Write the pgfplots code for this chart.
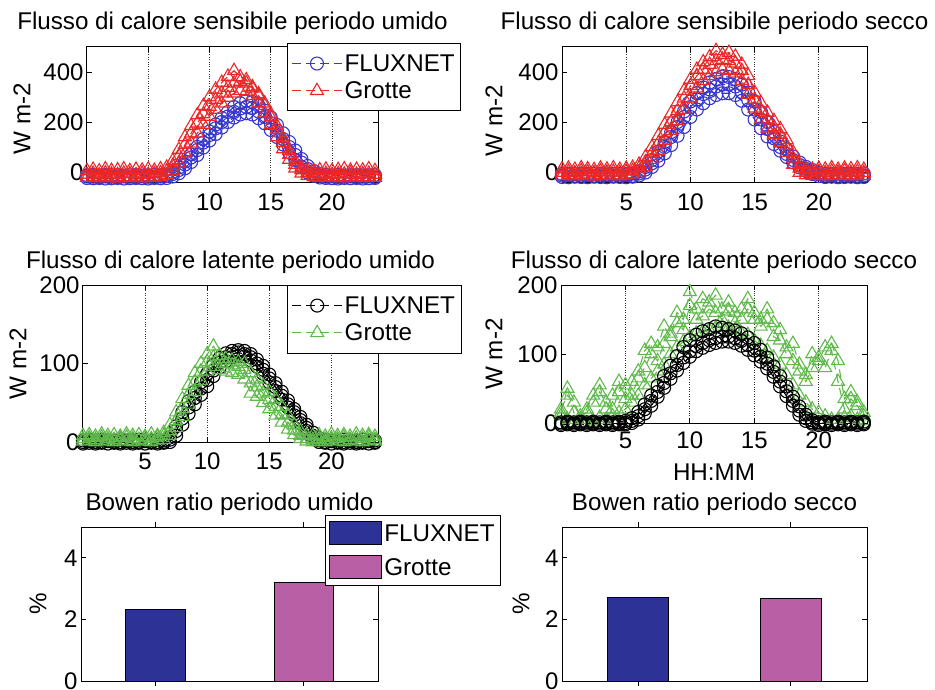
\documentclass[border=0pt]{standalone}
\usepackage{fontspec}
\setmainfont{Liberation Sans}
\usepackage{pgfplots}
\usepackage{pgfplotstable}
\pgfplotsset{compat=1.18}

\definecolor{fblue}{RGB}{55,55,205}
\definecolor{gred}{RGB}{235,40,40}
\definecolor{ggreen}{RGB}{95,185,75}
\definecolor{barblue}{RGB}{45,50,150}
\definecolor{barpink}{RGB}{185,95,165}

\newcommand{\tfont}{\fontsize{24.2}{28}\selectfont}
\newcommand{\kfont}{\fontsize{24}{28}\selectfont}

% Flusso di calore sensibile, periodo umido
\pgfplotstableread{
x     F1   F2   F3   G1   G2   G3
0     -24  -18  -13  -22  -10  5
0.5   -25  -19  -12  -20  -6   10
1     -24  -20  -14  -24  -12  4
1.5   -26  -18  -12  -18  -4   12
2     -25  -19  -13  -22  -9   6
2.5   -24  -20  -12  -25  -11  8
3     -26  -18  -14  -20  -5   12
3.5   -25  -19  -13  -23  -8   5
4     -24  -20  -12  -19  -12  10
4.5   -25  -18  -14  -24  -6   7
5     -26  -19  -13  -21  -10  11
5.5   -24  -20  -12  -22  -7   6
6     -25  -18  -13  -18  -4   12
6.5   -24  -16  -10  -12  2    18
7     -18  -8   0    5    25   45
7.5   -5   8    18   35   65   90
8     15   30   42   75   110  140
8.5   40   58   70   115  155  185
9     68   88   100  155  195  228
9.5   98   118  132  190  232  265
10    126  148  162  222  262  300
10.5  152  175  190  250  290  330
11    178  200  216  275  315  358
11.5  200  222  240  298  338  382
12    218  240  260  315  355  405
12.5  230  254  275  325  362  380
13    235  260  285  322  355  368
13.5  230  256  280  305  335  340
14    215  242  265  275  305  312
14.5  195  220  245  235  265  275
15    168  195  218  190  220  232
15.5  140  165  188  140  170  185
16    110  132  155  92   118  135
16.5  78   100  120  50   70   85
17    48   68   86   15   30   42
17.5  20   38   52   -5   8    18
18    -2   12   24   -15  -3   10
18.5  -15  -6   4    -20  -8   6
19    -22  -15  -8   -22  -10  8
19.5  -24  -19  -12  -19  -6   11
20    -25  -18  -13  -23  -11  5
20.5  -26  -20  -12  -20  -7   9
21    -24  -19  -14  -24  -9   12
21.5  -25  -18  -13  -21  -5   6
22    -24  -20  -12  -18  -10  10
22.5  -26  -19  -14  -23  -8   7
23    -25  -18  -13  -20  -6   12
23.5  -24  -20  -12  -22  -10  5
}\tabSU

% Flusso di calore sensibile, periodo secco
\pgfplotstableread{
x     F1   F2   F3   G1   G2   G3
0     -20  -14  -8   -15  -2   12
0.5   -21  -13  -7   -12  2    15
1     -19  -15  -8   -16  -4   10
1.5   -20  -14  -6   -10  4    16
2     -21  -13  -8   -14  0    12
2.5   -19  -15  -7   -17  -3   9
3     -20  -14  -8   -11  3    15
3.5   -21  -13  -6   -15  -1   11
4     -19  -15  -8   -13  2    16
4.5   -20  -14  -7   -16  -2   10
5     -21  -13  -8   -12  3    14
5.5   -19  -15  -6   -8   5    18
6     -14  -6   2    0    15   30
6.5   -2   10   20   20   40   60
7     20   35   48   50   75   100
7.5   45   65   82   85   115  145
8     75   100  120  125  158  190
8.5   108  140  160  165  200  235
9     145  180  200  205  245  280
9.5   180  220  242  250  295  325
10    220  260  282  295  345  370
10.5  250  290  315  335  385  410
11    275  312  338  365  410  440
11.5  295  330  358  385  430  460
12    308  342  372  400  445  485
12.5  315  350  382  410  450  470
13    315  350  380  405  445  478
13.5  308  342  372  395  435  462
14    285  320  350  365  405  430
14.5  250  288  318  310  350  385
15    210  250  282  255  290  318
15.5  175  210  240  210  245  275
16    142  172  200  175  210  238
16.5  112  135  160  148  180  205
17    85   100  122  118  150  172
17.5  60   72   90   78   105  128
18    38   48   62   30   55   78
18.5  18   28   38   -2   15   30
19    4    12   20   -12  -2   12
19.5  -8   0    8    -15  -4   10
20    -16  -9   -3   -13  2    14
20.5  -20  -14  -7   -16  -3   11
21    -19  -13  -8   -11  3    16
21.5  -21  -15  -6   -14  -1   10
22    -20  -14  -8   -12  4    15
22.5  -19  -13  -7   -16  -2   12
23    -21  -15  -8   -13  2    16
23.5  -20  -14  -6   -15  -3   10
}\tabSS

% Flusso di calore latente, periodo umido
\pgfplotstableread{
x     F1   F2   F3   G1   G2   G3
0     -2   0    2    1    4    8
0.5   -1   1    3    2    5    9
1     -2   0    2    0    3    7
1.5   -1   0    3    2    6    10
2     -2   1    2    1    4    8
2.5   -1   0    2    0    3    9
3     -2   0    3    2    5    7
3.5   -1   1    2    1    6    10
4     -2   0    2    0    4    8
4.5   -1   0    3    2    3    9
5     -2   1    2    1    5    7
5.5   -1   0    2    0    4    10
6     -2   0    3    2    6    8
6.5   -1   0    2    3    8    12
7     0    3    6    8    14   22
7.5   8    14   20   18   27   38
8     22   30   38   32   42   55
8.5   36   44   52   48   60   72
9     48   56   64   64   76   88
9.5   60   68   76   78   90   100
10    71   79   87   90   102  112
10.5  84   91   98   96   108  122
11    95   101  107  92   104  110
11.5  103  108  113  90   100  106
12    108  112  116  88   98   104
12.5  110  114  117  86   96   102
13    109  112  116  80   92   100
13.5  104  108  112  62   75   88
14    96   100  105  58   70   80
14.5  87   92   97   50   62   72
15    76   81   86   42   54   64
15.5  65   70   75   34   45   55
16    54   59   64   25   35   45
16.5  44   48   53   16   25   34
17    34   38   42   9    15   22
17.5  24   28   32   4    8    14
18    14   18   22   1    4    9
18.5  5    8    12   0    3    8
19    0    2    5    1    4    9
19.5  -1   0    3    0    3    7
20    -2   1    2    2    5    10
20.5  -1   0    2    1    4    8
21    -2   0    3    0    6    9
21.5  -1   1    2    2    3    7
22    -2   0    2    1    5    10
22.5  -1   0    3    0    4    8
23    -2   1    2    2    6    9
23.5  -1   0    2    1    3    7
}\tabLU

% Flusso di calore latente, periodo secco
\pgfplotstableread{
x     F1   F2   F3   G1   G2   G3
0     -3   -1   1    10   20   15
0.5   -2   0    2    5    40   50
1     -3   -1   1    0    30   15
1.5   -2   0    2    5    10   5
2     -3   -1   1    0    15   20
2.5   -2   0    2    3    30   40
3     -3   -1   1    8    45   55
3.5   -2   0    2    5    30   20
4     -3   -1   1    10   20   40
4.5   -2   0    2    15   45   60
5     -2   0    3    20   55   35
5.5   0    3    7    30   40   60
6     5    10   16   40   65   75
6.5   14   20   27   55   80   105
7     25   32   40   65   100  115
7.5   38   45   54   75   90   110
8     51   58   68   85   115  140
8.5   64   72   83   100  130  125
9     76   84   97   110  145  160
9.5   87   95   110  118  135  150
10    96   104  120  125  170  190
10.5  104  111  128  130  150  165
11    109  116  133  132  155  180
11.5  113  120  136  135  165  175
12    116  123  140  138  160  185
12.5  118  125  138  140  150  165
13    118  125  136  138  162  175
13.5  116  123  134  135  145  160
14    112  119  130  130  150  165
14.5  106  113  124  128  165  180
15    98   105  116  120  150  160
15.5  89   96   106  112  140  150
16    79   86   95   105  150  165
16.5  67   74   82   95   125  145
17    53   60   68   85   120  135
17.5  39   46   53   70   100  110
18    25   32   38   55   90   115
18.5  12   18   24   40   75   85
19    3    7    12   30   60   70
19.5  -1   1    4    20   80   100
20    -3   -1   1    15   95   90
20.5  -2   0    2    10   80   110
21    -3   -1   1    5    105  115
21.5  -2   0    2    5    60   90
22    -3   -1   1    8    20   35
22.5  -2   0    2    10   35   45
23    -3   -1   1    5    25   30
23.5  -2   0    2    3    10   15
}\tabLS

\pgfplotsset{
  mstyle/.style={
    scale only axis,
    anchor=south west,
    /pgf/number format/assume math mode=true,
    tick label style={font=\kfont},
    label style={font=\tfont},
    title style={font=\tfont, at={(0.5,1)}, anchor=base, yshift=11pt},
    tick align=inside,
    major tick length=5pt,
    axis line style={line width=1pt},
    every tick/.style={black, line width=0.8pt},
    legend cell align=left,
    legend style={font=\tfont, draw=black, line width=1pt, inner xsep=4pt, inner ysep=9pt, row sep=5pt},
  },
  lineax/.style={mstyle, xmin=0, xmax=23.75, xtick={5,10,15,20},
    xmajorgrids, grid style={dotted, black!80, line width=0.8pt}, clip=false,
    legend image code/.code={\draw[mark repeat=2,mark phase=2,##1] plot coordinates {(0pt,0pt) (25pt,0pt) (50pt,0pt)};}},
  base/.style={line width=1.1pt, dash pattern=on 9pt off 5pt, mark options={solid, line width=1.1pt}},
  fl/.style={base, color=fblue, mark=o, mark size=6.5pt},
  fk/.style={base, color=black, mark=o, mark size=6.5pt},
  gr/.style={base, color=gred, mark=triangle, mark size=7.5pt},
  gg/.style={base, color=ggreen, mark=triangle, mark size=7.5pt},
  barax/.style={mstyle, ybar, bar width=0.4, xmin=0.5, xmax=2.5, ymin=0, ymax=5,
    xtick={1,2}, xticklabels={}, ytick={0,2,4},
    title style={yshift=0pt}},
  barleg/.style={legend image code/.code={\draw[##1, draw=black, line width=0.8pt] (0pt,-11pt) rectangle (52pt,12pt);}},
}

\begin{document}
\begin{tikzpicture}[x=1pt,y=1pt]
\useasboundingbox (0,0) rectangle (935,-690);

% --- sensible, umido
\begin{axis}[lineax, at={(87pt,-182pt)}, width=291pt, height=135pt,
  ymin=-40, ymax=500, ytick={0,200,400},
  xticklabel style={yshift=-8pt},
  title={Flusso di calore sensibile periodo umido},
  ylabel={W m-2}, ylabel style={at={(axis description cs:0,0.5)}, anchor=center, yshift=65pt, xshift=-4pt},
  legend style={at={(0.687,1.03)}, anchor=north west}]
\addplot[fl] table[x=x,y=F1]{\tabSU}; \addlegendentry{FLUXNET\hspace{10pt}}
\addplot[fl, forget plot] table[x=x,y=F2]{\tabSU};
\addplot[fl, forget plot] table[x=x,y=F3]{\tabSU};
\addplot[gr] table[x=x,y=G1]{\tabSU}; \addlegendentry{Grotte}
\addplot[gr, forget plot] table[x=x,y=G2]{\tabSU};
\addplot[gr, forget plot] table[x=x,y=G3]{\tabSU};
\end{axis}

% --- sensible, secco
\begin{axis}[lineax, at={(562pt,-182pt)}, width=305pt, height=135pt,
  ymin=-40, ymax=500, ytick={0,200,400},
  xticklabel style={yshift=-8pt},
  title={Flusso di calore sensibile periodo secco},
  ylabel={W m-2}, ylabel style={at={(axis description cs:0,0.5)}, anchor=center, yshift=68pt, xshift=-6pt}]
\addplot[fl] table[x=x,y=F1]{\tabSS};
\addplot[fl] table[x=x,y=F2]{\tabSS};
\addplot[fl] table[x=x,y=F3]{\tabSS};
\addplot[gr] table[x=x,y=G1]{\tabSS};
\addplot[gr] table[x=x,y=G2]{\tabSS};
\addplot[gr] table[x=x,y=G3]{\tabSS};
\end{axis}

% --- latent, umido
\begin{axis}[lineax, at={(83pt,-442pt)}, width=295pt, height=157pt,
  ymin=0, ymax=200, ytick={0,100,200},
  xticklabel style={yshift=-7pt},
  title={Flusso di calore latente periodo umido},
  ylabel={W m-2}, ylabel style={at={(axis description cs:0,0.5)}, anchor=center, yshift=65pt},
  legend style={at={(0.692,1.0)}, anchor=north west}]
\addplot[fk] table[x=x,y=F1]{\tabLU}; \addlegendentry{FLUXNET\hspace{10pt}}
\addplot[fk, forget plot] table[x=x,y=F2]{\tabLU};
\addplot[fk, forget plot] table[x=x,y=F3]{\tabLU};
\addplot[gg] table[x=x,y=G1]{\tabLU}; \addlegendentry{Grotte}
\addplot[gg, forget plot] table[x=x,y=G2]{\tabLU};
\addplot[gg, forget plot] table[x=x,y=G3]{\tabLU};
\end{axis}

% --- latent, secco
\begin{axis}[lineax, at={(561pt,-423pt)}, width=306pt, height=138pt,
  ymin=0, ymax=200, ytick={0,100,200},
  xticklabel style={yshift=-5pt},
  title={Flusso di calore latente periodo secco},
  xlabel={HH:MM}, xlabel style={at={(axis description cs:0.5,0)}, anchor=base, yshift=-57pt},
  ylabel={W m-2}, ylabel style={at={(axis description cs:0,0.5)}, anchor=center, yshift=67pt}]
\addplot[gg] table[x=x,y=G1]{\tabLS};
\addplot[gg] table[x=x,y=G2]{\tabLS};
\addplot[gg] table[x=x,y=G3]{\tabLS};
\addplot[fk] table[x=x,y=F1]{\tabLS};
\addplot[fk] table[x=x,y=F2]{\tabLS};
\addplot[fk] table[x=x,y=F3]{\tabLS};
\end{axis}

% --- Bowen, umido
\begin{axis}[barax, at={(81pt,-681pt)}, width=297pt, height=154pt,
  title={Bowen ratio periodo umido},
  ylabel={\%}, ylabel style={at={(axis description cs:0,0.5)}, anchor=center, yshift=43pt},
  legend style={at={(0.8215,1.078)}, anchor=north west, row sep=10pt, inner ysep=6pt}]
\addplot[fill=barblue, draw=black, line width=0.6pt, bar shift=0pt, barleg] coordinates {(1,2.32)};
\addlegendentry{FLUXNET\hspace{8pt}}
\addplot[fill=barpink, draw=black, line width=0.6pt, bar shift=0pt, barleg] coordinates {(2,3.19)};
\addlegendentry{Grotte}
\end{axis}

% --- Bowen, secco
\begin{axis}[barax, at={(562pt,-681pt)}, width=305pt, height=154pt,
  title={Bowen ratio periodo secco},
  ylabel={\%}, ylabel style={at={(axis description cs:0,0.5)}, anchor=center, yshift=41pt}]
\addplot[fill=barblue, draw=black, line width=0.6pt, bar shift=0pt] coordinates {(1,2.71)};
\addplot[fill=barpink, draw=black, line width=0.6pt, bar shift=0pt] coordinates {(2,2.68)};
\end{axis}
\end{tikzpicture}
\end{document}
